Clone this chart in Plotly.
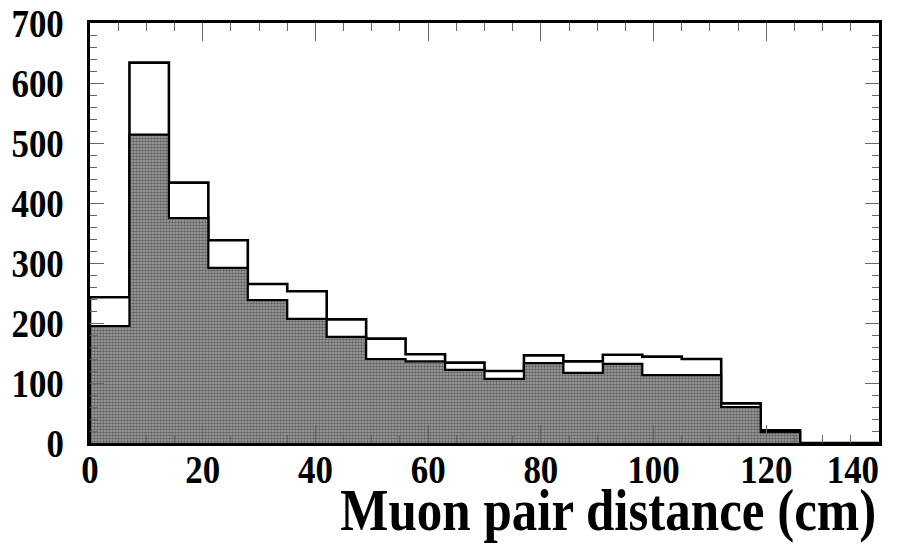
import plotly.graph_objects as go

# Muon pair distance histogram: 7 cm bins from 0 to 140 cm
bin_edges = [0, 7, 14, 21, 28, 35, 42, 49, 56, 63, 70, 77, 84, 91, 98, 105, 112, 119, 126, 133, 140]
all_pairs = [243, 634, 434, 338, 265, 253, 206, 174, 148, 134, 120, 146, 136, 147, 144, 140, 66, 21, 0, 0]
selected_pairs = [195, 514, 375, 292, 238, 207, 177, 140, 136, 122, 107, 133, 117, 132, 113, 113, 60, 18, 0, 0]

x_tick_vals = [0, 20, 40, 60, 80, 100, 120, 140]
y_tick_vals = [0, 100, 200, 300, 400, 500, 600, 700]
x_title = "Muon pair distance (cm)"

SERIF = "Liberation Serif, Times New Roman, serif"


def step_points(edges, counts):
    """Outline of a histogram as an hv step path starting and ending at zero."""
    xs = [edges[0]] + list(edges) + [edges[-1]]
    ys = [0] + list(counts) + [counts[-1], 0]
    return xs, ys[:len(xs)]


fig = go.Figure()

xs, ys = step_points(bin_edges, all_pairs)
fig.add_trace(go.Scatter(
    x=xs, y=ys, mode="lines", line=dict(color="black", width=2.6, shape="hv"),
    fill="tozeroy", fillcolor="white", hoverinfo="skip", showlegend=False,
))

xs, ys = step_points(bin_edges, selected_pairs)
fig.add_trace(go.Scatter(
    x=xs, y=ys, mode="lines", line=dict(color="black", width=2.2, shape="hv"),
    fill="tozeroy",
    fillpattern=dict(shape=".", fgcolor="#1a1a1a", bgcolor="#a8a8a8", size=3, solidity=0.6),
    hoverinfo="skip", showlegend=False,
))

axis_common = dict(
    showline=True, linecolor="black", linewidth=3, mirror="allticks",
    ticks="inside", tickcolor="#666", tickwidth=1,
    showgrid=False, zeroline=False, automargin=False,
    tickfont=dict(family=SERIF, size=41, color="black", weight="bold"),
)

fig.update_xaxes(
    range=[0, 140], tickvals=x_tick_vals, ticklen=18,
    minor=dict(dtick=5, ticklen=8, tickcolor="#666", tickwidth=1, ticks="inside"),
    ticklabelstandoff=-12,
    **axis_common,
)
fig.update_yaxes(
    range=[0, 700], tickvals=y_tick_vals, ticklen=14,
    minor=dict(dtick=20, ticklen=7, tickcolor="#666", tickwidth=1, ticks="inside"),
    ticklabelstandoff=15,
    **axis_common,
)

fig.add_annotation(
    text=x_title, xref="paper", yref="paper", x=0.657, y=-0.160,
    xanchor="center", yanchor="middle", showarrow=False,
    font=dict(family=SERIF, size=60, color="black", weight="bold"),
)

fig.update_layout(
    width=911, height=546, autosize=False,
    margin=dict(l=90, r=32, t=23, b=103),
    paper_bgcolor="white", plot_bgcolor="white",
)

# Narrow the Times-style glyphs horizontally, as in the printed figure,
# and keep the last x label inside the frame by right-aligning it on its tick.
condense = """
var gd = document.getElementById('{plot_id}');
gd.querySelectorAll('.xtick text, .ytick text, .annotation-text').forEach(function(t){
  var w = t.getComputedTextLength();
  t.setAttribute('lengthAdjust', 'spacingAndGlyphs');
  t.setAttribute('textLength', (w * 0.85).toFixed(1));
});
var xt = gd.querySelectorAll('.xtick text');
if (xt.length) {
  var last = xt[xt.length - 1];
  last.setAttribute('text-anchor', 'end');
}
"""

fig.write_html("out.html", post_script=condense)
